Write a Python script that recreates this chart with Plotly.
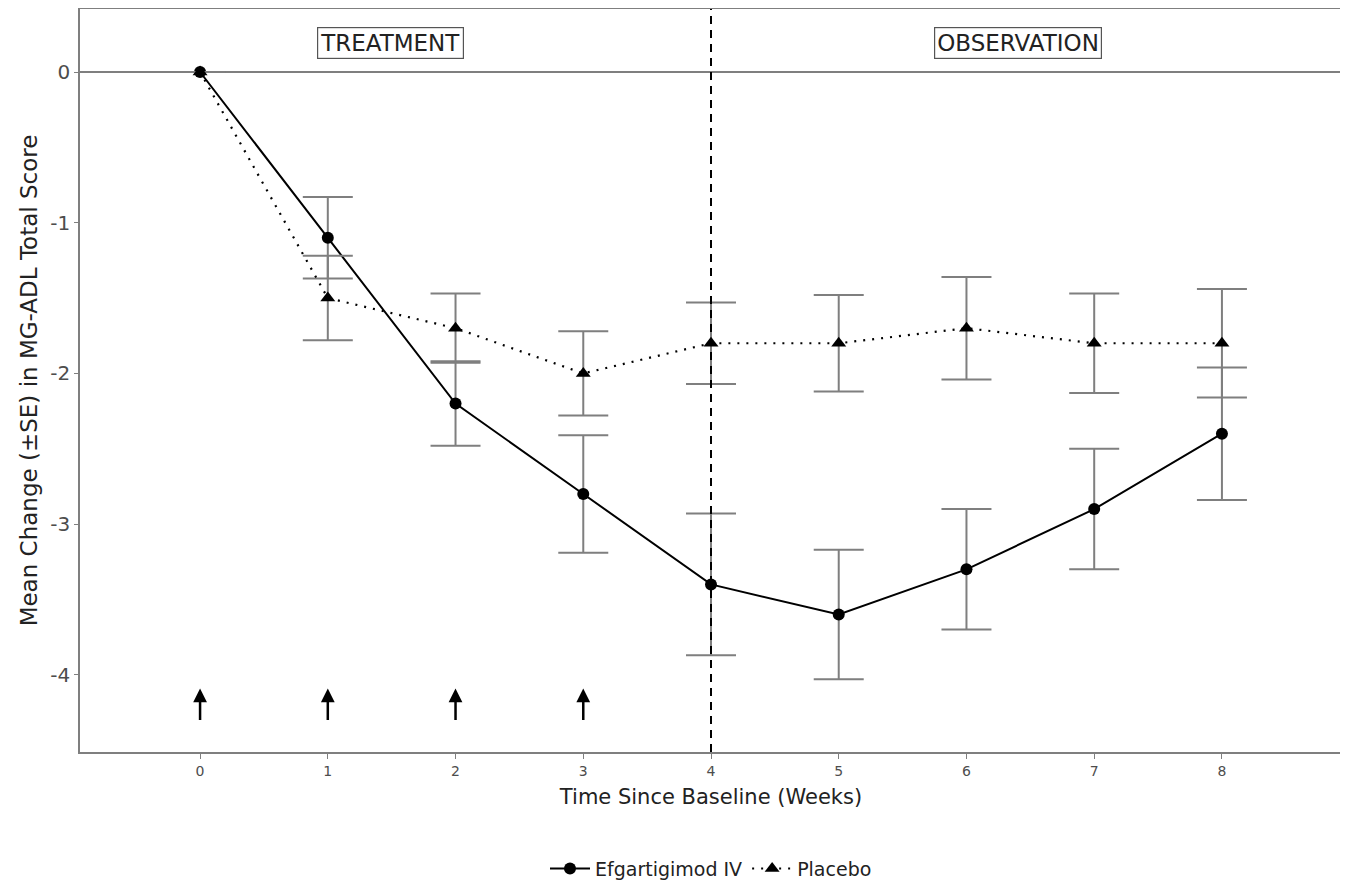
import plotly.graph_objects as go

weeks = [0, 1, 2, 3, 4, 5, 6, 7, 8]
efg_mean = [0.0, -1.10, -2.20, -2.80, -3.40, -3.60, -3.30, -2.90, -2.40]
efg_se = [None, 0.27, 0.28, 0.39, 0.47, 0.43, 0.40, 0.40, 0.44]
pbo_mean = [0.0, -1.50, -1.70, -2.00, -1.80, -1.80, -1.70, -1.80, -1.80]
pbo_se = [None, 0.28, 0.23, 0.28, 0.27, 0.32, 0.34, 0.33, 0.36]
dose_weeks = [0, 1, 2, 3]
x_ticks = [0, 1, 2, 3, 4, 5, 6, 7, 8]
y_ticks = [0, -1, -2, -3, -4]

FONT = "DejaVu Sans"
GRAY = "#7f7f7f"
TXT = "#4d4d4d"

fig = go.Figure()

fig.add_trace(go.Scatter(
    x=weeks, y=efg_mean, mode="lines+markers", name="Efgartigimod IV",
    line=dict(color="black", width=2, dash="solid"),
    marker=dict(symbol="circle", size=12, color="black"),
    error_y=dict(type="data", array=efg_se, visible=True, color=GRAY, thickness=2, width=25),
))
fig.add_trace(go.Scatter(
    x=weeks, y=pbo_mean, mode="lines+markers", name="Placebo",
    line=dict(color="black", width=2.2, dash="2px,7px"),
    marker=dict(symbol="triangle-up", size=13, color="black"),
    error_y=dict(type="data", array=pbo_se, visible=True, color=GRAY, thickness=2, width=25),
))

# reference lines
fig.add_hline(y=0, line=dict(color=GRAY, width=2), layer="below")
fig.add_vline(x=4, line=dict(color="black", width=2, dash="8px,6px"))

# dosing arrows
for w in dose_weeks:
    fig.add_annotation(x=w, y=-4.09, ax=w, ay=-4.31, xref="x", yref="y",
                       axref="x", ayref="y", showarrow=True, arrowhead=2,
                       arrowsize=1.1, arrowwidth=2.5, arrowcolor="black", text="")

# period labels
for label, xpos in [("TREATMENT", 1.49), ("OBSERVATION", 6.4)]:
    fig.add_annotation(x=xpos, y=0.19, xref="x", yref="y", text=label, showarrow=False,
                       font=dict(family=FONT, size=23, color="#222222"),
                       bordercolor="#555555", borderwidth=1.2, borderpad=2,
                       bgcolor="white")

fig.update_layout(
    width=1340, height=874,
    margin=dict(l=72, r=6, t=1, b=130, autoexpand=False),
    plot_bgcolor="white", paper_bgcolor="white",
    font=dict(family=FONT, color=TXT),
    showlegend=True,
    legend=dict(orientation="h", x=0.5, xanchor="center", y=-0.157, yanchor="middle",
                font=dict(family=FONT, size=19, color="#222222"), traceorder="normal",
                itemwidth=40),
)
fig.update_xaxes(
    range=[-0.94, 8.94], tickvals=x_ticks, ticktext=[str(t) for t in x_ticks],
    showgrid=False, zeroline=False, showline=True, mirror=True, automargin=False,
    linecolor=GRAY, linewidth=1.5, ticks="outside", ticklen=5, tickcolor=GRAY,
    tickfont=dict(family=FONT, size=14, color=TXT),
    title=dict(text="Time Since Baseline (Weeks)", font=dict(family=FONT, size=21, color="#222222"), standoff=12),
)
fig.update_yaxes(
    range=[-4.512, 0.418], tickvals=y_ticks, ticktext=[str(t) for t in y_ticks],
    showgrid=False, zeroline=False, showline=True, mirror=True, automargin=False,
    linecolor=GRAY, linewidth=1.5, ticks="outside", ticklen=4, tickcolor=GRAY,
    tickfont=dict(family=FONT, size=20, color=TXT),
    title=dict(text="Mean Change (\u00b1SE) in MG-ADL Total Score", font=dict(family=FONT, size=23, color="#222222"), standoff=6),
)

fig.write_html("out.html")
